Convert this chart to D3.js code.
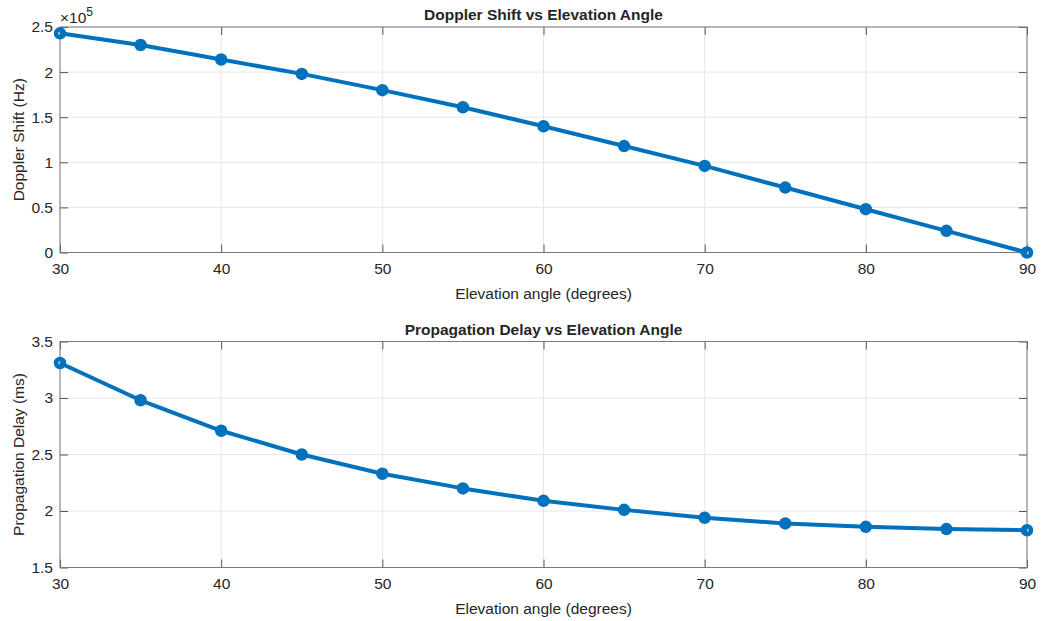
<!DOCTYPE html>
<meta charset="utf-8">
<title>Doppler shift and propagation delay</title>
<style>
	body { margin: 0; background: #fff; }
	text { font-family: "Liberation Sans", Arial, sans-serif; fill: #262626; }
	.grid line { stroke: #e6e6e6; stroke-width: 1; }
	.box { fill: none; stroke: #7a7a7a; stroke-width: 1; }
	.tick line { stroke: #555; }
	.series { fill: none; stroke: #0072bd; stroke-width: 4; stroke-linejoin: round; }
	.marker { fill: none; stroke: #0072bd; stroke-width: 4.5; }
</style>
<body>
<script src="https://d3js.org/d3.v7.min.js"></script>
<script>

var width = 1042,
	height = 621;

// elevation angles (degrees)
var angles = [30, 35, 40, 45, 50, 55, 60, 65, 70, 75, 80, 85, 90];
// doppler shift, in units of 1e5 Hz
var doppler = [2.43, 2.30, 2.14, 1.98, 1.80, 1.61, 1.40, 1.18, 0.96, 0.72, 0.48, 0.24, 0.0];
// propagation delay (ms)
var delay = [3.31, 2.98, 2.71, 2.50, 2.33, 2.20, 2.09, 2.01, 1.94, 1.89, 1.86, 1.84, 1.83];

var xTicks = [30, 40, 50, 60, 70, 80, 90];
var dopplerTicks = [0, 0.5, 1, 1.5, 2, 2.5];
var delayTicks = [1.5, 2, 2.5, 3, 3.5];

var fs = 15.5;

var svg = d3.select("body").append("svg")
	.attr("width", width)
	.attr("height", height);

var left = 60, right = 1027;

function panel(cfg) {
	var x = d3.scaleLinear().domain([30, 90]).range([left, right]);
	var y = d3.scaleLinear().domain(cfg.yDomain).range([cfg.bottom, cfg.top]);
	var g = svg.append("g");
	var h = cfg.bottom - cfg.top;

	// grid
	var grid = g.append("g").attr("class", "grid");
	grid.selectAll(".gx").data(xTicks).enter().append("line")
		.attr("x1", function(d) { return x(d); }).attr("x2", function(d) { return x(d); })
		.attr("y1", cfg.top).attr("y2", cfg.bottom);
	grid.selectAll(".gy").data(cfg.yTicks).enter().append("line")
		.attr("y1", function(d) { return y(d); }).attr("y2", function(d) { return y(d); })
		.attr("x1", left).attr("x2", right);

	// axes with inward ticks
	g.append("g").attr("transform", "translate(0," + cfg.bottom + ")")
		.call(d3.axisBottom(x).tickValues(xTicks).tickSizeInner(-8).tickSizeOuter(0).tickPadding(10))
		.call(function(a) { a.select(".domain").remove(); a.selectAll("text").attr("font-size", fs); });
	g.append("g").attr("transform", "translate(0," + cfg.top + ")")
		.call(d3.axisTop(x).tickValues(xTicks).tickSizeInner(-8).tickSizeOuter(0).tickFormat(""))
		.call(function(a) { a.select(".domain").remove(); });
	g.append("g").attr("transform", "translate(" + left + ",0)")
		.call(d3.axisLeft(y).tickValues(cfg.yTicks).tickSizeInner(-8).tickSizeOuter(0).tickPadding(7).tickFormat(d3.format("")))
		.call(function(a) { a.select(".domain").remove(); a.selectAll("text").attr("font-size", fs); });
	g.append("g").attr("transform", "translate(" + right + ",0)")
		.call(d3.axisRight(y).tickValues(cfg.yTicks).tickSizeInner(-8).tickSizeOuter(0).tickFormat(""))
		.call(function(a) { a.select(".domain").remove(); });
	g.selectAll("text").attr("fill", "#262626").attr("font-family", "Liberation Sans, Arial, sans-serif");

	g.append("rect").attr("class", "box")
		.attr("x", left).attr("y", cfg.top).attr("width", right - left).attr("height", h);

	// series
	var line = d3.line().x(function(d, i) { return x(angles[i]); }).y(function(d) { return y(d); });
	g.append("path").datum(cfg.values).attr("class", "series").attr("d", line);
	g.selectAll(".marker").data(cfg.values).enter().append("circle")
		.attr("class", "marker")
		.attr("cx", function(d, i) { return x(angles[i]); })
		.attr("cy", function(d) { return y(d); })
		.attr("r", 4);

	// labels
	g.append("text").attr("x", (left + right) / 2).attr("y", cfg.top - 7)
		.attr("text-anchor", "middle").attr("font-size", fs).attr("font-weight", "bold")
		.attr("fill", "#000").text(cfg.title);
	g.append("text").attr("x", (left + right) / 2).attr("y", cfg.bottom + 46)
		.attr("text-anchor", "middle").attr("font-size", fs).text("Elevation angle (degrees)");
	g.append("text").attr("transform", "translate(24," + (cfg.top + h / 2) + ") rotate(-90)")
		.attr("text-anchor", "middle").attr("font-size", fs).text(cfg.yLabel);
	return g;
}

var top1 = panel({ top: 27, bottom: 252.5, yDomain: [0, 2.5], yTicks: dopplerTicks, values: doppler,
	title: "Doppler Shift vs Elevation Angle", yLabel: "Doppler Shift (Hz)" });

var mult = top1.append("text").attr("x", left).attr("y", 23).attr("font-size", fs);
mult.append("tspan").text("\u00d710");
mult.append("tspan").attr("dy", -7).attr("font-size", 12).text("5");

panel({ top: 341.5, bottom: 567.5, yDomain: [1.5, 3.5], yTicks: delayTicks, values: delay,
	title: "Propagation Delay vs Elevation Angle", yLabel: "Propagation Delay (ms)" });

</script>
